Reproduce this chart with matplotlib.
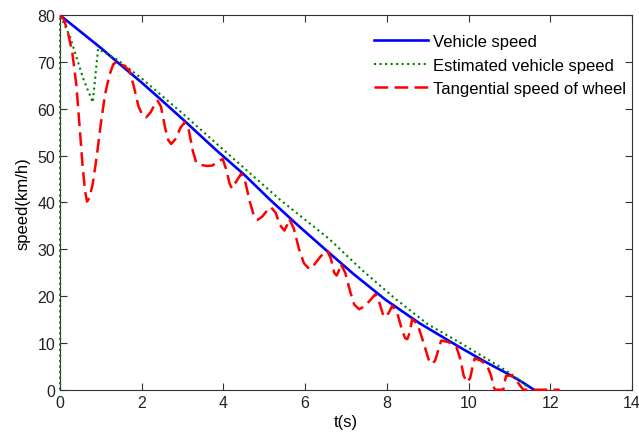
import numpy as np
import matplotlib.pyplot as plt

plt.rcParams['font.family'] = ['Liberation Sans', 'DejaVu Sans']

# vehicle speed (km/h) vs time (s)
t_vehicle = [0, 0.5, 1.0, 1.4, 2.0, 2.44, 3.0, 3.82, 4.5, 5.15, 5.8, 6.5, 7.2,
             7.97, 8.8, 9.76, 10.4, 10.98, 11.3, 11.6]
v_vehicle = [80, 76.5, 73, 70, 65.6, 62.2, 57.8, 51.2, 46.0, 40.5, 35.3, 29.9,
             24.6, 19.2, 14.2, 9.2, 6.0, 3.3, 1.7, 0]

# estimated vehicle speed
t_est = [0, 0, 0.24, 0.57, 0.8, 0.93, 1.4, 2.0, 3.0, 3.98, 5.37, 6.59, 7.4,
         8.21, 9.0, 9.76, 10.73, 11.1, 11.46]
v_est = [0, 80, 75.5, 66.4, 61.4, 72.8, 70.5, 66.5, 59.0, 51.4, 40.7, 32.2,
         25.5, 19.4, 14.0, 10.2, 5.1, 3.0, 0.5]

# tangential speed of wheel
t_wheel = [0, 0.1, 0.2, 0.3, 0.4, 0.48, 0.55, 0.61, 0.66, 0.72, 0.8, 0.9, 1.0,
           1.1, 1.2, 1.3, 1.38,
           1.55, 1.7, 1.8, 1.92, 2.02, 2.11, 2.22, 2.32, 2.39,
           2.47, 2.57, 2.65, 2.72, 2.82, 2.95, 3.05,
           3.15, 3.25, 3.33, 3.45, 3.6, 3.73, 3.88, 3.98,
           4.07, 4.15, 4.21, 4.3, 4.43,
           4.53, 4.65, 4.75, 4.84, 4.95, 5.06, 5.16,
           5.28, 5.38, 5.49, 5.56, 5.61,
           5.72, 5.85, 5.97, 6.1, 6.22, 6.38, 6.54,
           6.63, 6.71, 6.77, 6.82, 6.87,
           6.98, 7.1, 7.2, 7.32, 7.45, 7.6, 7.72,
           7.82, 7.9, 7.97, 8.05, 8.13,
           8.25, 8.38, 8.45, 8.5, 8.56, 8.62,
           8.75, 8.9, 9.02, 9.1, 9.18, 9.26, 9.33,
           9.5, 9.7, 9.8, 9.88, 9.96, 10.04, 10.1, 10.15,
           10.3, 10.45, 10.55, 10.62, 10.65, 10.85, 10.88, 10.92,
           11.05, 11.15, 11.25, 11.34, 12.23]
v_wheel = [80, 79, 76, 72, 65, 56, 48, 42.5, 40.2, 41, 44, 50, 57,
           63, 67, 69.5, 70,
           69.3, 68.2, 65, 60.5, 58.6, 58.2, 59.3, 61, 61.7,
           60.5, 56, 53.3, 52.5, 53.5, 56, 57.1,
           55.5, 51, 48.6, 48, 47.8, 47.9, 48.8, 49.3,
           47, 44, 43, 44.3, 46.1,
           44.5, 40, 37, 36.3, 37, 38.2, 39,
           37.8, 35.2, 34, 35.2, 36.5,
           34.5, 30, 27, 25.8, 26.7, 28.5, 29.7,
           28, 25, 24.4, 25.3, 26.9,
           25, 21, 18.2, 17.2, 17.8, 19.2, 20.4,
           18.5, 16.2, 15.5, 16.5, 17.9,
           16.5, 12.5, 11, 10.8, 12.2, 15.1,
           14, 10, 6.5, 5.5, 6.2, 8.5, 10.5,
           10.2, 9.2, 6.5, 3, 1.6, 2.5, 5, 6.7,
           6.2, 5.3, 3, 0.5, 0, 0, 1.5, 3,
           3, 2.3, 1, 0, 0]

fig = plt.figure(figsize=(6.39, 4.39), dpi=100)
ax = fig.add_axes([0.094, 0.110, 0.895, 0.853])

ax.plot(t_vehicle, v_vehicle, color='#0000ff', lw=1.9, label='Vehicle speed')
ax.plot(t_est, v_est, color='#008000', lw=1.5, ls=':', label='Estimated vehicle speed',
        clip_on=False, zorder=3)
ax.plot(t_wheel, v_wheel, color='#ff0000', lw=1.8, ls=(0, (5.5, 2.5)),
        label='Tangential speed of wheel', clip_on=False, zorder=4)

ax.set_xlim(0, 14)
ax.set_ylim(0, 80)
ax.set_xticks(np.arange(0, 15, 2))
ax.set_yticks(np.arange(0, 81, 10))
ax.tick_params(direction='in', top=True, right=True, labelsize=11.5, length=5,
               color='#333333', labelcolor='#222222')
for s in ax.spines.values():
    s.set_color('#333333')
ax.set_xlabel('t(s)', fontsize=12, labelpad=3)
ax.set_ylabel('speed(km/h)', fontsize=12, labelpad=5)

ax.legend(loc='upper left', bbox_to_anchor=(0.538, 0.967), frameon=False,
          fontsize=12, handlelength=3.2, handletextpad=0.3, labelspacing=0.5,
          borderaxespad=0)

fig.savefig('out.png', dpi=100)
